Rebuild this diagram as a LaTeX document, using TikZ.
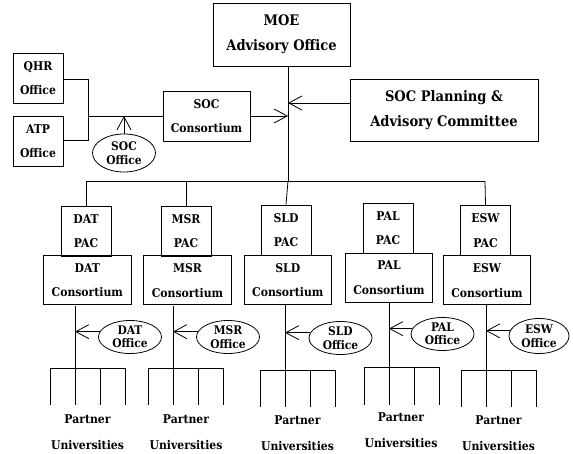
\documentclass[tikz,border=0pt]{standalone}
\usepackage{fontspec}
\IfFontExistsTF{DejaVu Serif Condensed}
 {\setmainfont{DejaVu Serif Condensed}\newcommand\myscale{0.88}}
 {\setmainfont{DejaVu Serif}\newcommand\myscale{0.79}}
\newcommand\myfont[2]{\bfseries\fontsize{\fpeval{#1*\myscale}pt}{#2pt}\selectfont}
\usetikzlibrary{arrows.meta,shapes.geometric}
\begin{document}
\begin{tikzpicture}[x=1pt,y=-1pt, line width=0.8pt,
 box/.style={draw, inner sep=0pt, align=center, font=\myfont{13.7}{24.5}},
 bigbox/.style={draw, inner sep=0pt, align=center, font=\myfont{16.5}{25}},
 pac/.style={box, minimum width=50pt, minimum height=50pt},
 cons/.style={box, minimum width=87.5pt, minimum height=49pt},
 office/.style={draw, ellipse, inner sep=0pt, align=center, minimum width=63pt, minimum height=33pt, font=\myfont{13.5}{13.5}},
 arr/.style={-{Straight Barb[length=13pt,width=14pt]}},
 partner/.style={align=center, inner sep=0pt, font=\myfont{13.7}{26}}]
\useasboundingbox (0,0) rectangle (573,454);

% top level
\node[bigbox, minimum width=137pt, minimum height=63pt] (moe) at (281.5,34.5) {MOE\\Advisory Office};
\node[box, minimum width=50pt, minimum height=50pt] (qhr) at (38,78) {QHR\\Office};
\node[box, minimum width=50pt, minimum height=50pt] (atp) at (38,141) {ATP\\Office};
\node[box, minimum width=87pt, minimum height=50pt] (socc) at (206.5,116) {SOC\\Consortium};
\node[bigbox, minimum width=188pt, minimum height=62pt] (socp) at (444,110) {SOC Planning \&\\Advisory Committee};
\node[office, minimum height=38pt] (soco) at (124,153) {SOC\\Office};

% junction coordinates
\coordinate (j1) at (88,79);
\coordinate (j2) at (88,140);
\coordinate (j3) at (88,116);
\coordinate (main) at (288,66);
\coordinate (bus) at (288,181);
\coordinate (busl) at (86,181);
\coordinate (busm) at (186,181);
\coordinate (busr) at (485,181);
\coordinate (socarr) at (124,116);
\coordinate (socin) at (288,116);
\coordinate (plin) at (288,103);
\coordinate (plout) at (350,103);

\draw (qhr.east |- j1) -- (j1) -- (j2) -- (atp.east |- j2);
\draw (j3) -- (socc.west |- j3);
\draw[arr] (soco.north) -- (socarr);
\draw[arr] (socc.east) -- (socin);
\draw[arr] (plout) -- (plin);
\draw (main) -- (bus);
\draw (busl) -- (busr);

% PAC and consortium boxes
\node[pac] (datp) at (86,231) {DAT\\PAC};
\node[pac] (msrp) at (186,231) {MSR\\PAC};
\node[pac] (sldp) at (286,230) {SLD\\PAC};
\node[pac] (palp) at (388,228) {PAL\\PAC};
\node[pac] (eswp) at (485.5,230.5) {ESW\\PAC};

\node[cons, anchor=north] (datc) at (87.3,255.5) {DAT\\Consortium};
\node[cons, anchor=north] (msrc) at (187.5,255.5) {MSR\\Consortium};
\node[cons, anchor=north] (sldc) at (287.8,255) {SLD\\Consortium};
\node[cons, anchor=north] (palc) at (389,253) {PAL\\Consortium};
\node[cons, anchor=north] (eswc) at (487,255.5) {ESW\\Consortium};

\draw (busl) -- (datp.north);
\draw (busm) -- (msrp.north);
\draw (bus) -- (sldp.north);
\draw (busr) -- (eswp.north);

% offices
\node[office] (dato) at (130,337) {DAT\\Office};
\node[office] (msro) at (228,337) {MSR\\Office};
\node[office] (sldo) at (340.5,338) {SLD\\Office};
\node[office] (palo) at (442.5,334) {PAL\\Office};
\node[office, minimum width=60pt, minimum height=35pt] (eswo) at (539,336) {ESW\\Office};

% rakes: DAT
\coordinate (dl) at (75,306);
\coordinate (dr1) at (50,368); \coordinate (dr3) at (100,368); \coordinate (dr4) at (125,368);
\coordinate (db1) at (50,405); \coordinate (db2) at (75,405); \coordinate (db3) at (100,405); \coordinate (db4) at (125,405);
\draw (dl) -- (db2);
\draw (db1) -- (dr1) -- (dr4) -- (db4);
\draw (dr3) -- (db3);
\draw[arr] (dato.170) -- (dato.170 -| dl);
\node[partner] (datu) at (87.5,432) {Partner\\Universities};

% MSR
\coordinate (ml) at (173,306);
\coordinate (mr1) at (148,368); \coordinate (mr3) at (198,368); \coordinate (mr4) at (223,368);
\coordinate (mb1) at (148,405); \coordinate (mb2) at (173,405); \coordinate (mb3) at (198,405); \coordinate (mb4) at (223,405);
\draw (ml) -- (mb2);
\draw (mb1) -- (mr1) -- (mr4) -- (mb4);
\draw (mr3) -- (mb3);
\draw[arr] (msro.170) -- (msro.170 -| ml);
\node[partner] (msru) at (186,432) {Partner\\Universities};

% SLD
\coordinate (sl) at (285,305);
\coordinate (sr1) at (260,370); \coordinate (sr3) at (310,370); \coordinate (sr4) at (335,370);
\coordinate (sb1) at (260,407); \coordinate (sb2) at (285,407); \coordinate (sb3) at (310,407); \coordinate (sb4) at (335,407);
\draw (sl) -- (sb2);
\draw (sb1) -- (sr1) -- (sr4) -- (sb4);
\draw (sr3) -- (sb3);
\draw[arr] (sldo.170) -- (sldo.170 -| sl);
\node[partner] (sldu) at (297.5,433.5) {Partner\\Universities};

% PAL
\coordinate (pl) at (389,303);
\coordinate (pr1) at (364,367); \coordinate (pr3) at (414,367); \coordinate (pr4) at (439,367);
\coordinate (pb1) at (364,405); \coordinate (pb2) at (389,405); \coordinate (pb3) at (414,405); \coordinate (pb4) at (439,405);
\draw (pl) -- (pb2);
\draw (pb1) -- (pr1) -- (pr4) -- (pb4);
\draw (pr3) -- (pb3);
\draw[arr] (palo.170) -- (palo.170 -| pl);
\node[partner] (palu) at (401,430.5) {Partner\\Universities};

% ESW
\coordinate (el) at (486,305);
\coordinate (er1) at (461,370); \coordinate (er3) at (511,370); \coordinate (er4) at (536,370);
\coordinate (eb1) at (461,407); \coordinate (eb2) at (486,407); \coordinate (eb3) at (511,407); \coordinate (eb4) at (536,407);
\draw (el) -- (eb2);
\draw (eb1) -- (er1) -- (er4) -- (eb4);
\draw (er3) -- (eb3);
\draw[arr] (eswo.170) -- (eswo.170 -| el);
\node[partner] (eswu) at (498.5,433) {Partner\\Universities};
\end{tikzpicture}
\end{document}
